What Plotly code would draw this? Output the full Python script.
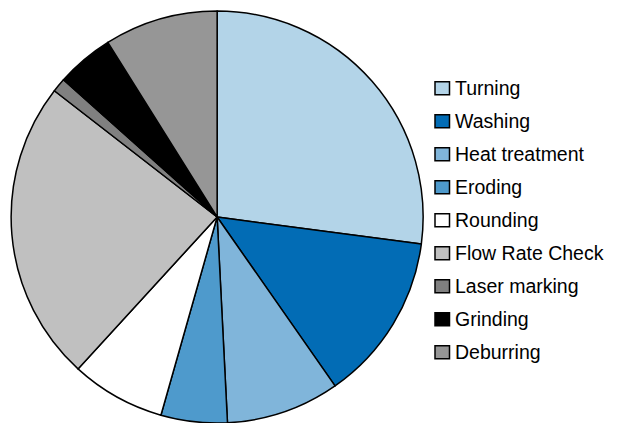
import plotly.graph_objects as go

# Share of total process time per production step (percent)
steps = ["Turning", "Washing", "Heat treatment", "Eroding", "Rounding",
         "Flow Rate Check", "Laser marking", "Grinding", "Deburring"]
shares = [27.1, 13.2, 8.9, 5.2, 7.4, 23.7, 1.1, 4.5, 8.9]
colors = ["#B3D4E8", "#026CB5", "#80B5DA", "#4E9ACC", "#FFFFFF",
          "#C0C0C0", "#808080", "#000000", "#969696"]

W, H = 621, 423
ML, MR, MT, MB = 10, 0, 11, 0
PW, PH = W - ML - MR, H - MT - MB


def px_x(x):
    return (x - ML) / PW


def px_y(y):
    return 1 - (y - MT) / PH


fig = go.Figure(go.Pie(
    labels=steps,
    values=shares,
    sort=False,
    direction="clockwise",
    rotation=0,
    marker=dict(colors=colors, line=dict(color="#000000", width=1.5)),
    textinfo="none",
    hoverinfo="label+percent",
    domain=dict(x=[0, 0.678], y=[0, 1]),
    showlegend=False,
))

# Legend drawn as a column of swatches and labels
shapes, annotations = [], []
row0, step = 88.3, 33.0
for i, (lab, col) in enumerate(zip(steps, colors)):
    cy = row0 + i * step
    shapes.append(dict(
        type="rect", xref="paper", yref="paper",
        x0=px_x(435), x1=px_x(449.5), y0=px_y(cy + 6.5), y1=px_y(cy - 6.5),
        fillcolor=col, line=dict(color="#000000", width=1.5),
    ))
    annotations.append(dict(
        x=px_x(453), y=px_y(cy), xref="paper", yref="paper",
        text=lab, showarrow=False, xanchor="left", yanchor="middle",
        font=dict(family="Liberation Sans, Arial, sans-serif", size=19.5, color="#000000"),
    ))

fig.update_layout(
    width=W, height=H,
    margin=dict(l=ML, r=MR, t=MT, b=MB),
    paper_bgcolor="#FFFFFF",
    plot_bgcolor="#FFFFFF",
    shapes=shapes,
    annotations=annotations,
)

fig.write_html("out.html")
